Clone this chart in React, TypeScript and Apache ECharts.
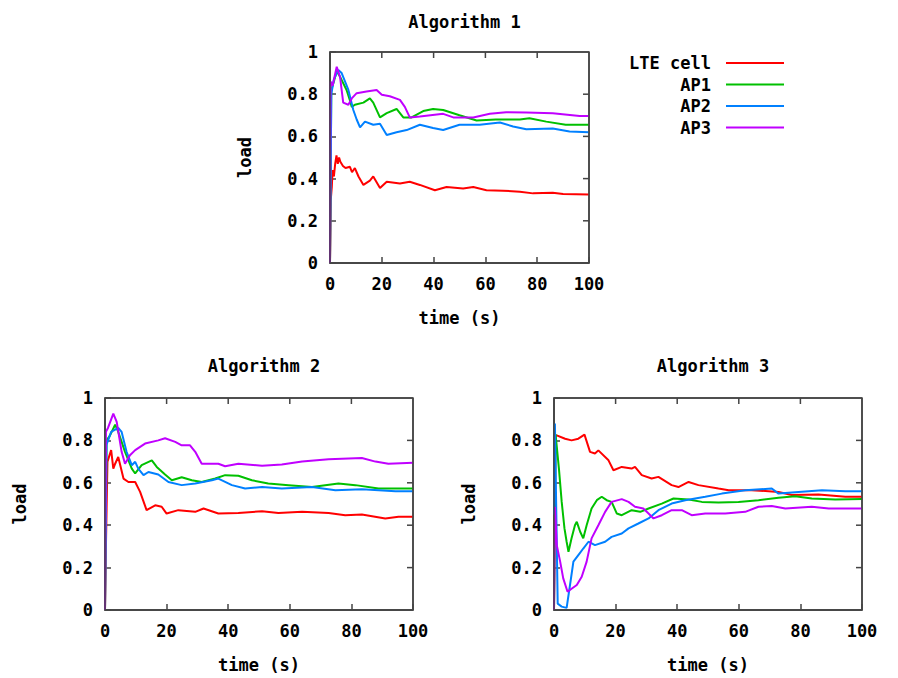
import React, { useEffect, useRef } from "react";
import * as echarts from "echarts";

const FONT = "DejaVu Sans Mono";
const LINE = "#444444";
const seriesNames = ["LTE cell", "AP1", "AP2", "AP3"];
const seriesColors = ["#ff0000", "#00c000", "#0080ff", "#c000ff"];
const titles = ["Algorithm 1", "Algorithm 2", "Algorithm 3"];
const xTicks = [0, 20, 40, 60, 80, 100];
const yTicks = [0, 0.2, 0.4, 0.6, 0.8, 1];

const alg1Lte = [[0,0],[0.3,0.3],[0.7,0.36],[1,0.44],[1.5,0.41],[2,0.47],[2.5,0.51],[3,0.47],[3.5,0.5],[4,0.48],[5,0.46],[6,0.45],[7.7,0.456],[8.5,0.43],[9.6,0.45],[11,0.41],[12.9,0.37],[15.4,0.39],[16.7,0.41],[19.3,0.355],[21.9,0.385],[27,0.377],[30.8,0.385],[34.7,0.37],[40.5,0.345],[45,0.36],[51.4,0.353],[55.3,0.36],[60.4,0.345],[66.8,0.343],[73.3,0.338],[78.4,0.33],[86,0.333],[90,0.327],[100,0.325]];
const alg1Ap1 = [[0,0],[0.5,0.82],[1.5,0.86],[2.6,0.91],[4,0.88],[6.4,0.82],[7.7,0.77],[8.4,0.74],[9.6,0.75],[12.9,0.76],[15.4,0.78],[16.7,0.76],[19.3,0.69],[21.9,0.71],[25.7,0.73],[28.3,0.69],[31.5,0.69],[36,0.72],[39.8,0.73],[43.7,0.725],[50,0.7],[56.6,0.675],[64,0.68],[73.3,0.68],[77,0.686],[83.5,0.67],[91,0.655],[100,0.655]];
const alg1Ap2 = [[0,0],[0.5,0.8],[1.5,0.87],[3.2,0.915],[4.5,0.9],[7.1,0.82],[9,0.725],[10.3,0.68],[11.6,0.643],[13.5,0.67],[16.7,0.655],[19.3,0.66],[21.9,0.607],[25.7,0.62],[29.6,0.63],[34.7,0.655],[39.8,0.64],[43.7,0.63],[50,0.655],[57.8,0.655],[65.6,0.666],[70.7,0.647],[75.8,0.634],[86,0.637],[92.5,0.623],[100,0.62]];
const alg1Ap3 = [[0,0],[0.2,0.86],[1,0.84],[2.6,0.93],[3.9,0.88],[5.1,0.76],[7.1,0.75],[8.4,0.78],[10.3,0.805],[14.1,0.813],[18,0.82],[20,0.797],[23.1,0.79],[27,0.773],[28.9,0.74],[30.8,0.69],[34.7,0.694],[43.7,0.707],[47.6,0.69],[55.3,0.69],[61.7,0.707],[68,0.715],[75.8,0.713],[86,0.71],[96.4,0.697],[100,0.697]];

const alg2Lte = [[0,0],[0.3,0.3],[0.8,0.7],[2,0.754],[2.7,0.667],[3.3,0.69],[4.3,0.722],[6,0.62],[7.6,0.604],[9.8,0.604],[11.4,0.557],[13.5,0.471],[16.3,0.494],[18.4,0.487],[20,0.455],[23.8,0.471],[29.3,0.463],[32,0.479],[36.8,0.455],[43.3,0.458],[51,0.466],[56.3,0.458],[64,0.463],[72.6,0.458],[78,0.447],[83.4,0.45],[91,0.432],[95.3,0.44],[100,0.44]];
const alg2Ap1 = [[0,0],[0.5,0.8],[1.5,0.82],[3.3,0.874],[4.3,0.84],[6.5,0.746],[8.7,0.667],[9.8,0.644],[11.9,0.683],[15.2,0.706],[16.8,0.675],[19.5,0.639],[21.7,0.612],[24.9,0.626],[28.2,0.612],[31.4,0.604],[35.8,0.62],[39,0.636],[43.3,0.633],[47.7,0.612],[53,0.597],[59.6,0.589],[67.2,0.58],[75.8,0.597],[81.3,0.589],[88.8,0.573],[100,0.573]];
const alg2Ap2 = [[0,0],[0.5,0.78],[2,0.84],[4.3,0.859],[5.4,0.84],[7,0.746],[8.7,0.683],[9.8,0.699],[10.8,0.667],[12.5,0.636],[14.1,0.651],[17.3,0.639],[20.6,0.604],[24.9,0.589],[29.3,0.597],[34.7,0.612],[36.8,0.62],[41.2,0.589],[45.5,0.573],[51,0.58],[57.4,0.573],[67.2,0.58],[74.8,0.565],[83.4,0.57],[94.3,0.56],[100,0.56]];
const alg2Ap3 = [[0,0],[0.3,0.84],[1,0.86],[2.7,0.926],[3.8,0.887],[5.4,0.746],[6.5,0.69],[8.1,0.73],[9.8,0.754],[13,0.785],[17.3,0.8],[19.5,0.81],[22.8,0.793],[24.9,0.777],[27.6,0.777],[29.3,0.746],[31.4,0.69],[36.8,0.69],[39,0.678],[43.3,0.69],[51,0.68],[57.4,0.686],[64,0.7],[72.6,0.711],[83.4,0.717],[87.8,0.7],[92,0.69],[100,0.695]];

const alg3Lte = [[0,0],[0.5,0.82],[0.9,0.824],[3.6,0.808],[5.7,0.8],[7.9,0.808],[9.9,0.827],[11.7,0.746],[13.3,0.738],[14.4,0.753],[17.7,0.706],[19.3,0.659],[22,0.675],[25.2,0.667],[26.3,0.675],[28.5,0.636],[31.7,0.62],[33.9,0.628],[38.2,0.589],[40.4,0.58],[43.7,0.604],[46.9,0.589],[53.4,0.573],[56.7,0.565],[64.2,0.565],[72.9,0.557],[77.2,0.542],[85.9,0.545],[94.6,0.534],[100,0.534]];
const alg3Ap1 = [[0,0],[0.5,0.83],[1.6,0.667],[2.5,0.51],[3.4,0.385],[4.1,0.322],[4.7,0.275],[5.7,0.338],[6.8,0.4],[7.4,0.416],[8.5,0.369],[9.5,0.338],[10.6,0.4],[12.2,0.479],[13.9,0.518],[15.5,0.534],[17.1,0.518],[18.7,0.51],[20.4,0.455],[22,0.447],[25.2,0.471],[28,0.463],[30.7,0.479],[35,0.502],[38.8,0.526],[43.7,0.521],[48,0.51],[53.4,0.507],[59.9,0.51],[66.4,0.518],[72.9,0.529],[78.3,0.537],[83.7,0.526],[91.3,0.521],[100,0.523]];
const alg3Ap2 = [[0,0.45],[0.3,0.88],[1.2,0.03],[2.5,0.016],[4.1,0.01],[5.2,0.118],[6.3,0.228],[7.9,0.259],[9.5,0.29],[11.2,0.322],[13.3,0.306],[16.6,0.322],[18.7,0.345],[22,0.361],[24.2,0.385],[27.4,0.408],[30.7,0.432],[33.9,0.471],[38.2,0.502],[42.6,0.518],[49.1,0.534],[54.5,0.549],[62.1,0.565],[70.7,0.573],[72.9,0.549],[79.4,0.557],[87,0.565],[94.6,0.56],[100,0.56]];
const alg3Ap3 = [[0,0],[0.3,0.487],[0.9,0.306],[2,0.228],[3,0.149],[4.4,0.086],[5.7,0.1],[7.4,0.118],[9,0.157],[10.6,0.228],[12.2,0.338],[14.4,0.4],[16.6,0.463],[18.7,0.51],[22,0.523],[24.2,0.51],[26.3,0.487],[29,0.479],[30.7,0.455],[32.3,0.432],[35,0.447],[38.2,0.471],[41.5,0.471],[44.7,0.447],[49.1,0.455],[55.6,0.455],[62.1,0.463],[66.4,0.487],[70.7,0.491],[75.1,0.479],[83.7,0.487],[89.2,0.479],[100,0.479]];

const plotData = [
  [alg1Lte, alg1Ap1, alg1Ap2, alg1Ap3],
  [alg2Lte, alg2Ap1, alg2Ap2, alg2Ap3],
  [alg3Lte, alg3Ap1, alg3Ap2, alg3Ap3],
];

const grids = [
  { left: 330, top: 52, width: 259, height: 211 },
  { left: 105, top: 398, width: 308, height: 212 },
  { left: 554, top: 398, width: 308, height: 212 },
];

export default function App() {
  const ref = useRef<HTMLDivElement>(null);
  useEffect(() => {
    if (!ref.current) return;
    const chart = echarts.init(ref.current, undefined, { renderer: "svg" });
    const txt = () => ({ fontFamily: FONT, fontSize: 17, fontWeight: "bold" as const, color: "#000" });
    const axisLine = () => ({ show: true, onZero: false, lineStyle: { color: LINE, width: 1.5 } });
    const tick = () => ({ show: true, inside: true, length: 6, lineStyle: { color: LINE, width: 1.5 } });
    const xAxes: any[] = [];
    const yAxes: any[] = [];
    const series: any[] = [];
    grids.forEach((g, i) => {
      xAxes.push({
        type: "value", gridIndex: i, position: "bottom", min: xTicks[0], max: xTicks[xTicks.length - 1], interval: 20,
        axisLine: axisLine(), axisTick: tick(), splitLine: { show: false },
        axisLabel: { ...txt(), margin: 12 },
        name: "time (s)", nameLocation: "middle", nameGap: 46, nameTextStyle: txt(),
      });
      yAxes.push({
        type: "value", gridIndex: i, position: "left", min: yTicks[0], max: yTicks[yTicks.length - 1], interval: 0.2,
        axisLine: axisLine(), axisTick: tick(), splitLine: { show: false },
        axisLabel: { ...txt(), margin: 12 },
        name: "load", nameLocation: "middle", nameGap: 77, nameTextStyle: txt(),
      });
      plotData[i].forEach((d, k) => {
        series.push({
          type: "line", name: seriesNames[k], xAxisIndex: i, yAxisIndex: i,
          data: d, showSymbol: false, symbol: "none",
          lineStyle: { color: seriesColors[k], width: 2 }, itemStyle: { color: seriesColors[k] },
          z: 2 + k,
        });
      });
    });
    chart.setOption({
      animation: false,
      title: grids.map((g, i) => ({
        text: titles[i], left: g.left + g.width / 2, top: i === 0 ? 8 : 352, textAlign: "center",
        textStyle: txt(),
      })),
      grid: grids.map((g) => ({
        left: g.left, top: g.top, width: g.width, height: g.height,
        show: true, borderColor: LINE, borderWidth: 1.5,
      })),
      xAxis: xAxes,
      yAxis: yAxes,
      legend: {
        data: seriesNames, orient: "vertical", align: "right", right: 109, top: 49,
        icon: "rect", itemWidth: 58, itemHeight: 2, itemGap: 3.5,
        textStyle: { ...txt(), lineHeight: 18, padding: [0, 10, 0, 0] },
      },
      series,
    });

    // Frame box and mirrored ticks, placed through the axes' own scales
    const frame: any[] = [];
    grids.forEach((g, i) => {
      const finder = { xAxisIndex: i, yAxisIndex: i };
      const tl = chart.convertToPixel(finder, [xTicks[0], yTicks[yTicks.length - 1]]) as number[];
      const br = chart.convertToPixel(finder, [xTicks[xTicks.length - 1], yTicks[0]]) as number[];
      const x0 = tl[0], y0 = tl[1], x1 = br[0], y1 = br[1];
      const st = { stroke: LINE, lineWidth: 1.5 };
      frame.push({ type: "line", z: 100, silent: true, shape: { x1: x0, y1: y0, x2: x1, y2: y0 }, style: st });
      frame.push({ type: "line", z: 100, silent: true, shape: { x1: x1, y1: y0, x2: x1, y2: y1 }, style: st });
      frame.push({ type: "line", z: 100, silent: true, shape: { x1: x0, y1: y1, x2: x1, y2: y1 }, style: st });
      frame.push({ type: "line", z: 100, silent: true, shape: { x1: x0, y1: y0, x2: x0, y2: y1 }, style: st });
      xTicks.slice(1, -1).forEach((t) => {
        const p = chart.convertToPixel(finder, [t, yTicks[yTicks.length - 1]]) as number[];
        frame.push({ type: "line", z: 100, silent: true, shape: { x1: p[0], y1: y0, x2: p[0], y2: y0 + 6 }, style: st });
      });
      yTicks.slice(1, -1).forEach((v) => {
        const p = chart.convertToPixel(finder, [xTicks[xTicks.length - 1], v]) as number[];
        frame.push({ type: "line", z: 100, silent: true, shape: { x1: x1, y1: p[1], x2: x1 - 6, y2: p[1] }, style: st });
      });
    });
    chart.setOption({ graphic: frame });
    return () => chart.dispose();
  }, []);
  return <div ref={ref} style={{ position: "fixed", left: 0, top: 0, width: 898, height: 678, background: "#fff" }} />;
}
